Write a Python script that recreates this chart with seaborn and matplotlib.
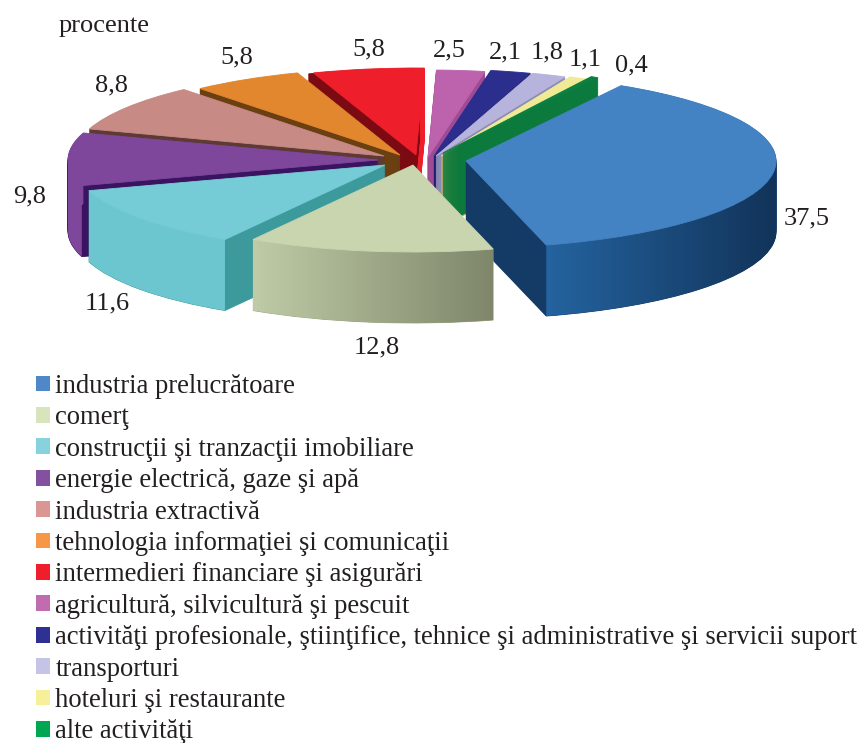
import numpy as np
import matplotlib
matplotlib.use('Agg')
import matplotlib.pyplot as plt
from matplotlib.patches import Patch, PathPatch
from matplotlib.path import Path
import seaborn as sns

# percentages, in pie order (clockwise)
sectors = ['industria prelucrătoare', 'comerţ', 'construcţii şi tranzacţii imobiliare',
           'energie electrică, gaze şi apă', 'industria extractivă',
           'tehnologia informaţiei şi comunicaţii', 'intermedieri financiare şi asigurări',
           'agricultură, silvicultură şi pescuit',
           'activităţi profesionale, ştiinţifice, tehnice şi administrative şi servicii suport',
           'transporturi', 'hoteluri şi restaurante', 'alte activităţi']
values = [37.5, 12.8, 11.6, 9.8, 8.8, 5.8, 5.8, 2.5, 2.1, 1.8, 1.1, 0.4]

# colours of the slices: top face, cut face, legend key
top_colors = ['#4483c3', '#c8d5ae', '#76ccd6', '#7e479c', '#c88a84', '#e3872e',
              '#ee1f2b', '#bd63ae', '#2c2e8e', '#b6b3dc', '#f0ea96', '#0a7f3f']
cut_colors = ['#143a66', '#9aa480', '#3d9a9c', '#3a1460', '#5d3a36', '#6a3f12',
              '#7c0a12', '#a04a96', '#1d1f70', '#8d8bb5', '#b8b060', '#0b7a3c']
key_colors = ['#4f88c6', '#d8e4bc', '#86d3de', '#8351a0', '#d99694', '#f79646',
              '#ee1f2b', '#c06cb0', '#2e3192', '#c5c3e6', '#f7f09a', '#00a651']
# outer wall of the four front slices, left and right end of the gradient
wall_left = {0: '#24639f', 1: '#bfcba6', 2: '#6cc6d0', 3: '#7e479c'}
wall_right = {0: '#12345a', 1: '#7f876b', 2: '#6cc6d0', 3: '#7e479c'}

# layout, in pixels of the 862x743 picture
centers_x = [466, 413, 385, 378, 384, 400, 416, 428, 434, 436, 441, 443]
centers_y = [161, 165, 165, 160, 156, 155, 155, 157, 156, 156, 156, 153]
label_x = [807, 377, 107, 30, 112, 237, 369, 449, 505, 547, 585, 631]
label_y = [218, 347, 303, 196, 85, 57, 49, 50, 52, 52, 59, 65]
draw_order = [6, 5, 4, 3, 2, 7, 8, 9, 10, 11, 0, 1]
red = 6
red_shift = 5
radius = 310
squash = 87 / 310
depth = 71
ink = '#231f20'


def to_y(py):
    return (743 - py) / squash


def draw_slice(ax, i, cx, py, color, z):
    wedges, _ = ax.pie(values, colors=[color] * len(values), startangle=60, counterclock=False,
                       radius=radius, center=(cx, to_y(py)), frame=True,
                       wedgeprops=dict(linewidth=0.6, edgecolor=color))
    for j, w in enumerate(wedges):
        if j == i:
            w.set_zorder(z)
            kept = w
        else:
            w.remove()
    return kept


def draw_wall(ax, i, wedge, z):
    # outer wall: arc swept down, with a left-to-right gradient
    # split at the extremes in x so each piece stays a simple polygon
    cuts = [a for a in np.arange(-720, 721, 180) if wedge.theta1 < a < wedge.theta2]
    edges = [wedge.theta1] + cuts + [wedge.theta2]
    whole = centers_x[i] + radius * np.cos(np.radians(np.linspace(wedge.theta1, wedge.theta2, 200)))
    pal = sns.blend_palette([wall_left[i], wall_right[i]], n_colors=64)
    for t1, t2 in zip(edges[:-1], edges[1:]):
        theta = np.radians(np.linspace(t1, t2, 60))
        x = centers_x[i] + radius * np.cos(theta)
        y_top = to_y(centers_y[i]) + radius * np.sin(theta)
        y_low = y_top - depth / squash
        poly = np.column_stack([np.r_[x, x[::-1]], np.r_[y_top, y_low[::-1]]])
        clip = PathPatch(Path(np.r_[poly, poly[:1]]), transform=ax.transData)
        img = ax.imshow(np.array(pal)[None, :, :],
                        extent=[whole.min(), whole.max(), y_low.min(), y_top.max()],
                        aspect='auto', zorder=z)
        img.set_clip_path(clip)


sns.set_theme(style='white')
plt.rcParams['font.family'] = ['Liberation Serif', 'DejaVu Serif']

fig = plt.figure(figsize=(8.62, 7.43), dpi=100)
ax = fig.add_axes([0, 0, 1, 1])

z = 1
for i in draw_order:
    # the right cut face of the red slice stays bright, only its left one is dark
    if i == red:
        for d in range(depth, 0, -1):
            draw_slice(ax, i, centers_x[i], centers_y[i] + d, top_colors[i], z)
            z += 1
    shift = red_shift if i == red else 0
    for d in range(depth, 0, -1):
        wedge = draw_slice(ax, i, centers_x[i] - shift, centers_y[i] + d, cut_colors[i], z)
        z += 1
    if i in wall_left:
        draw_wall(ax, i, wedge, z)
    z += 1
    draw_slice(ax, i, centers_x[i], centers_y[i], top_colors[i], z)
    z += 1

for v, lx, ly in zip(values, label_x, label_y):
    ax.text(lx, to_y(ly), f'{v:.1f}'.replace('.', ','), fontsize=19, color=ink,
            ha='center', va='center', zorder=z)
ax.text(104, to_y(26), 'procente', fontsize=19, color=ink, ha='center', va='center', zorder=z)

handles = [Patch(facecolor=c, edgecolor='none', label=s) for c, s in zip(key_colors, sectors)]
ax.legend(handles=handles, loc='upper left', bbox_to_anchor=(36 / 862, 1 - 374 / 743),
          borderaxespad=0, borderpad=0, frameon=False, prop={'size': 19.2}, labelcolor=ink,
          handlelength=0.53, handleheight=0.53, handletextpad=0.2, labelspacing=0.24)

ax.set_aspect('auto')
ax.set_xlim(0, 862)
ax.set_ylim(0, 743 / squash)
ax.axis('off')
fig.savefig('out.png', dpi=100)
